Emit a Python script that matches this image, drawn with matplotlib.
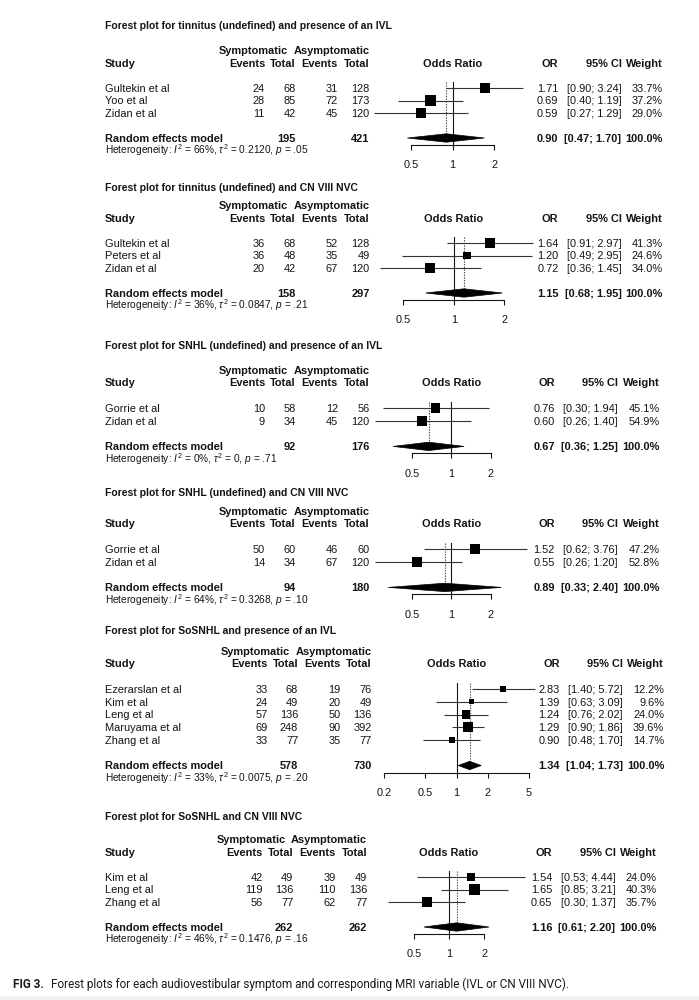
import numpy as np
import matplotlib
matplotlib.use("Agg")
import matplotlib.pyplot as plt
from matplotlib.patches import Polygon
from matplotlib.ticker import NullLocator, NullFormatter

plt.rcParams['font.family'] = ['Liberation Sans', 'DejaVu Sans']
plt.rcParams['mathtext.fontset'] = 'custom'
plt.rcParams['mathtext.rm'] = 'Liberation Sans'
plt.rcParams['mathtext.it'] = 'Liberation Sans:italic'
plt.rcParams['mathtext.bf'] = 'Liberation Sans:bold'

# ---------------- data ----------------
titles = [
    "Forest plot for tinnitus (undefined) and presence of an IVL",
    "Forest plot for tinnitus (undefined) and CN VIII NVC",
    "Forest plot for SNHL (undefined) and presence of an IVL",
    "Forest plot for SNHL (undefined) and CN VIII NVC",
    "Forest plot for SoSNHL and presence of an IVL",
    "Forest plot for SoSNHL and CN VIII NVC",
]
studies = [
    ["Gultekin et al", "Yoo et al", "Zidan et al"],
    ["Gultekin et al", "Peters et al", "Zidan et al"],
    ["Gorrie et al", "Zidan et al"],
    ["Gorrie et al", "Zidan et al"],
    ["Ezerarslan et al", "Kim et al", "Leng et al", "Maruyama et al", "Zhang et al"],
    ["Kim et al", "Leng et al", "Zhang et al"],
]
events_sym = [[24, 28, 11], [36, 36, 20], [10, 9], [50, 14], [33, 24, 57, 69, 33], [42, 119, 56]]
total_sym = [[68, 85, 42], [68, 48, 42], [58, 34], [60, 34], [68, 49, 136, 248, 77], [49, 136, 77]]
events_asym = [[31, 72, 45], [52, 35, 67], [12, 45], [46, 67], [19, 20, 50, 90, 35], [39, 110, 62]]
total_asym = [[128, 173, 120], [128, 49, 120], [56, 120], [60, 120], [76, 49, 136, 392, 77], [49, 136, 77]]
odds_ratio = [[1.71, 0.69, 0.59], [1.64, 1.20, 0.72], [0.76, 0.60], [1.52, 0.55],
              [2.83, 1.39, 1.24, 1.29, 0.90], [1.54, 1.65, 0.65]]
ci_low = [[0.90, 0.40, 0.27], [0.91, 0.49, 0.36], [0.30, 0.26], [0.62, 0.26],
          [1.40, 0.63, 0.76, 0.90, 0.48], [0.53, 0.85, 0.30]]
ci_high = [[3.24, 1.19, 1.29], [2.97, 2.95, 1.45], [1.94, 1.40], [3.76, 1.20],
           [5.72, 3.09, 2.02, 1.86, 1.70], [4.44, 3.21, 1.37]]
weights = [[33.7, 37.2, 29.0], [41.3, 24.6, 34.0], [45.1, 54.9], [47.2, 52.8],
           [12.2, 9.6, 24.0, 39.6, 14.7], [24.0, 40.3, 35.7]]
pooled_total_sym = [195, 158, 92, 94, 578, 262]
pooled_total_asym = [421, 297, 176, 180, 730, 262]
pooled_or = [0.90, 1.15, 0.67, 0.89, 1.34, 1.16]
pooled_low = [0.47, 0.68, 0.36, 0.33, 1.04, 0.61]
pooled_high = [1.70, 1.95, 1.25, 2.40, 1.73, 2.20]
het_i2 = ["66%", "36%", "0%", "64%", "33%", "46%"]
het_tau2 = ["0.2120", "0.0847", "0", "0.3268", "0.0075", "0.1476"]
het_p = [".05", ".21", ".71", ".10", ".20", ".16"]
axis_ticks = [[0.5, 1, 2], [0.5, 1, 2], [0.5, 1, 2], [0.5, 1, 2], [0.2, 0.5, 1, 2, 5], [0.5, 1, 2]]
axis_labels = [["0.5", "1", "2"], ["0.5", "1", "2"], ["0.5", "1", "2"], ["0.5", "1", "2"],
               ["0.2", "0.5", "1", "2", "5"], ["0.5", "1", "2"]]
caption_bold = "FIG 3."
caption_text = "Forest plots for each audiovestibular symptom and corresponding MRI variable (IVL or CN VIII NVC)."

# ---------------- layout (pixels) ----------------
W_PX, H_PX = 699, 1000
title_y = [25, 187, 345, 492, 630, 816]
first_row_y = [88, 243, 408, 549, 689, 877]
row_sp = [12.5, 12.5, 12.8, 12.8, 12.75, 12.5]
x_one = [452.6, 453.8, 451.4, 451.4, 456.5, 449.0]
px_per_log2 = [41.5, 50.4, 39.5, 39.5, 31.2, 35.2]
dx_left = [0, 0, 0, 0, 2.4, -2.4]
dx_right = [0, 0, -3.6, -3.6, 1.2, -6]

STUDY_X, EV1, TOT1, EV2, TOT2 = 105, 265, 295.8, 338, 369.6
SYM_RIGHT = 287.8
ORX, CIX, WX = 558.4, 621.5, 663
FOREST_L, FOREST_R = 360, 545

INK = '#141414'
FS_REG = 7.9
FS_BOLD = 7.9
FS_TITLE = 7.5
FS_HET = 7.3

fig = plt.figure(figsize=(W_PX / 100, H_PX / 100), dpi=100)
bg = fig.add_axes([0, 0, 1, 1])
bg.set_xlim(0, W_PX)
bg.set_ylim(H_PX, 0)
bg.axis('off')


def txt(x, y, s, fs, ha='left', weight='normal', **kw):
    base = y + 0.36 * fs * 100 / 72
    return bg.text(x, base, s, fontsize=fs, ha=ha, va='baseline', fontweight=weight,
                   color=INK, **kw)


for k in range(len(titles)):
    dl, dr = dx_left[k], dx_right[k]
    y0, sp = first_row_y[k], row_sp[k]
    n = len(studies[k])
    rows = [y0 + i * sp for i in range(n)]
    py = rows[-1] + 2 * sp
    sym_y, hdr_y = y0 - 3 * sp, y0 - 2 * sp

    txt(STUDY_X, title_y[k], titles[k], FS_TITLE, weight='bold')
    txt(SYM_RIGHT + dl, sym_y, "Symptomatic", FS_BOLD, ha='right', weight='bold')
    txt(TOT2 + dl, sym_y, "Asymptomatic", FS_BOLD, ha='right', weight='bold')
    txt(STUDY_X, hdr_y, "Study", FS_BOLD, weight='bold')
    for xc, lab in [(EV1, "Events"), (TOT1, "Total"), (EV2, "Events"), (TOT2, "Total")]:
        txt(xc + dl, hdr_y, lab, FS_BOLD, ha='right', weight='bold')
    txt(x_one[k], hdr_y, "Odds Ratio", FS_BOLD, ha='center', weight='bold')
    for xc, lab in [(ORX, "OR"), (CIX, "95% CI"), (WX, "Weight")]:
        txt(xc + dr, hdr_y, lab, FS_BOLD, ha='right', weight='bold')

    for i in range(n):
        y = rows[i]
        txt(STUDY_X, y, studies[k][i], FS_REG)
        txt(EV1 + dl, y, str(events_sym[k][i]), FS_REG, ha='right')
        txt(TOT1 + dl, y, str(total_sym[k][i]), FS_REG, ha='right')
        txt(EV2 + dl, y, str(events_asym[k][i]), FS_REG, ha='right')
        txt(TOT2 + dl, y, str(total_asym[k][i]), FS_REG, ha='right')
        txt(ORX + dr, y, f"{odds_ratio[k][i]:.2f}", FS_REG, ha='right')
        txt(CIX + dr, y, f"[{ci_low[k][i]:.2f}; {ci_high[k][i]:.2f}]", FS_REG, ha='right')
        txt(WX + dr, y, f"{weights[k][i]:.1f}%", FS_REG, ha='right')

    txt(STUDY_X, py, "Random effects model", FS_BOLD, weight='bold')
    txt(TOT1 + dl, py, str(pooled_total_sym[k]), FS_BOLD, ha='right', weight='bold')
    txt(TOT2 + dl, py, str(pooled_total_asym[k]), FS_BOLD, ha='right', weight='bold')
    txt(ORX + dr, py, f"{pooled_or[k]:.2f}", FS_BOLD, ha='right', weight='bold')
    txt(CIX + dr, py, f"[{pooled_low[k]:.2f}; {pooled_high[k]:.2f}]", FS_BOLD, ha='right', weight='bold')
    txt(WX + dr, py, "100.0%", FS_BOLD, ha='right', weight='bold')
    txt(STUDY_X, py + 12.5,
        r"Heterogeneity: $I^2$ = " + het_i2[k] + r", $\tau^2$ = " + het_tau2[k]
        + r", $p$ = " + het_p[k], FS_HET)

    # forest axes
    axis_y = py + 7
    top = y0 - 6.5
    x1, ppl = x_one[k], px_per_log2[k]
    ax = fig.add_axes([FOREST_L / W_PX, 1 - axis_y / H_PX,
                       (FOREST_R - FOREST_L) / W_PX, (axis_y - top) / H_PX])
    ax.set_xscale('log')
    ax.set_xlim(2 ** ((FOREST_L - x1) / ppl), 2 ** ((FOREST_R - x1) / ppl))
    ax.set_ylim(axis_y, top)
    ax.patch.set_alpha(0)
    for s in ['top', 'right', 'left']:
        ax.spines[s].set_visible(False)
    ax.spines['bottom'].set_bounds(axis_ticks[k][0], axis_ticks[k][-1])
    ax.spines['bottom'].set_linewidth(0.8)
    ax.spines['bottom'].set_color(INK)
    ax.set_xticks(axis_ticks[k])
    ax.set_xticklabels(axis_labels[k])
    ax.xaxis.set_minor_locator(NullLocator())
    ax.xaxis.set_minor_formatter(NullFormatter())
    ax.set_yticks([])
    ax.tick_params(axis='x', length=3.8, width=0.8, pad=7.2, labelsize=FS_REG, colors=INK)

    ax.axvline(1, color=INK, lw=0.8)
    ax.plot([pooled_or[k], pooled_or[k]], [top, py - 4], color='#444444', lw=0.8,
            ls=(0, (1.2, 1.2)))
    ax.hlines(rows, ci_low[k], ci_high[k], color='#333333', lw=0.8, clip_on=False)
    wmax = max(weights[k])
    sizes = [(10.3 * 0.72 * np.sqrt(w / wmax)) ** 2 for w in weights[k]]
    ax.scatter(odds_ratio[k], rows, marker='s', s=sizes, color='black', linewidths=0,
               zorder=3, clip_on=False)
    dia = Polygon([(pooled_low[k], py), (pooled_or[k], py - 4.2), (pooled_high[k], py),
                   (pooled_or[k], py + 4.2)], closed=True, facecolor='black',
                  edgecolor='black', lw=0.5, clip_on=False, zorder=3)
    ax.add_patch(dia)

# caption
bg.axhspan(996, 1000, color='#f1f1f1', lw=0)
cap_family = ['Roboto', 'DejaVu Sans']
t_bold = bg.text(13, 988, caption_bold, fontsize=8.5, fontweight='bold', family=cap_family,
                 color='#1a1a1a', va='baseline')
fig.canvas.draw()
bb = t_bold.get_window_extent()
bg.text(bb.x1 + 7, 988, caption_text, fontsize=8.5, family=cap_family,
        color='#1a1a1a', va='baseline')

fig.savefig("out.png", dpi=100)
